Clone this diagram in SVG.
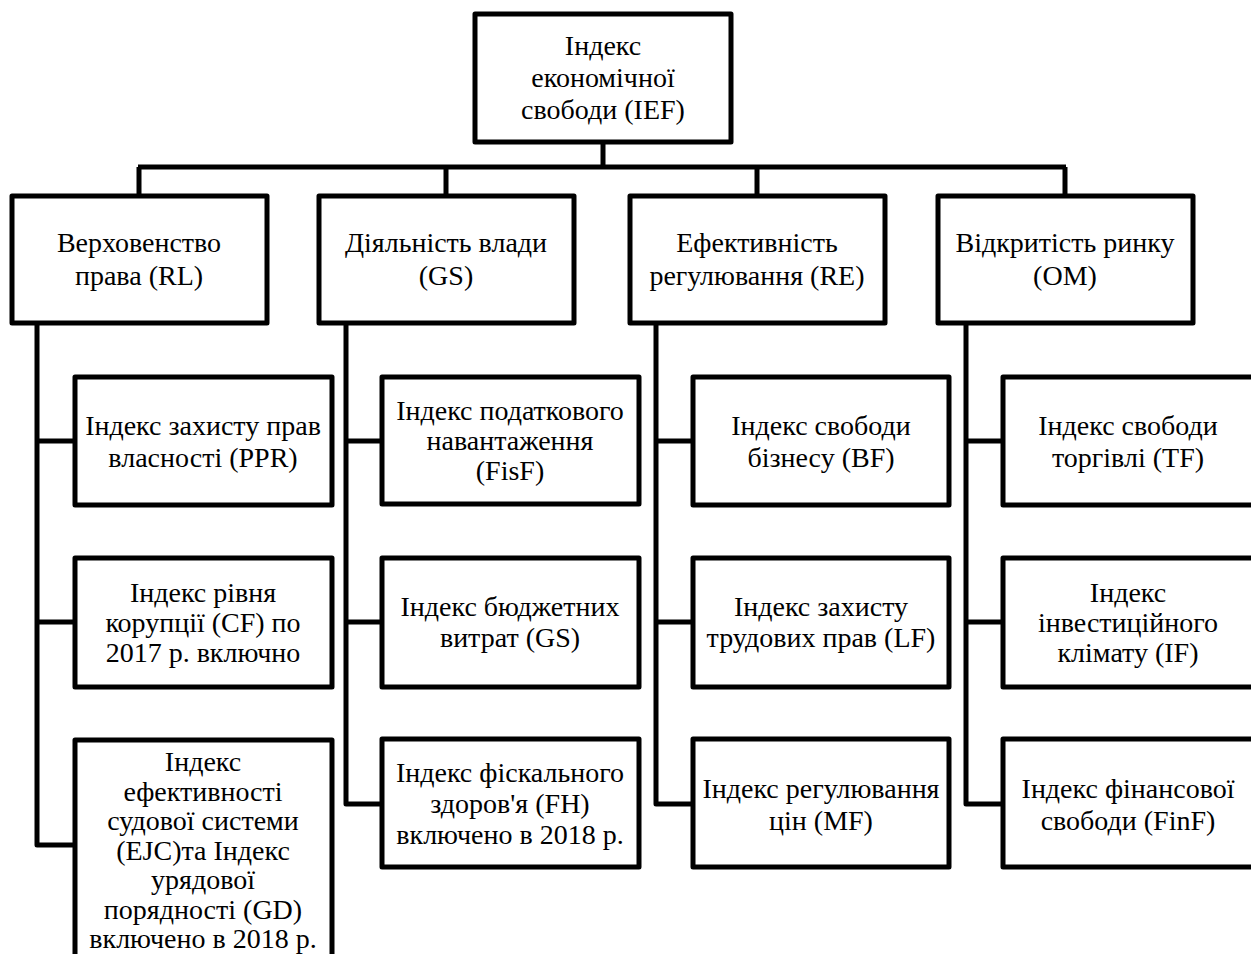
<svg xmlns="http://www.w3.org/2000/svg" width="1251" height="954" viewBox="0 0 1251 954">
<style>
.box{fill:#fff;stroke:#000;stroke-width:5;stroke-linejoin:round}
.ln{fill:none;stroke:#000;stroke-width:5;stroke-linejoin:round}
.t{font-family:'Liberation Serif','DejaVu Serif',serif;font-size:28px;fill:#000;text-anchor:middle}
</style>
<rect width="1251" height="954" fill="#fff"/>
<g id="connectors">
<path class="ln" d="M603 142V167M138 167H1066M139 167V196M446 167V196M757 167V196M1065 167V196"/>
<path class="ln" d="M37 323V845H75M37 441H75M37 622H75"/>
<path class="ln" d="M346 323V804H382M346 441H382M346 622H382"/>
<path class="ln" d="M656 323V804H693M656 441H693M656 622H693"/>
<path class="ln" d="M966 323V804H1003M966 441H1003M966 622H1003"/>
</g>
<g class="t" font-family="Liberation Serif, DejaVu Serif, serif">
<g id="ief"><rect class="box" x="475" y="14" width="256" height="128"/>
<text x="603" y="55">Індекс</text><text x="603" y="87">економічної</text><text x="603" y="119">свободи (IEF)</text></g>
<g id="rl"><rect class="box" x="12" y="196" width="255" height="127"/>
<text x="139" y="252">Верховенство</text><text x="139" y="285">права (RL)</text></g>
<g id="gs"><rect class="box" x="319" y="196" width="255" height="127"/>
<text x="446" y="252">Діяльність влади</text><text x="446" y="285">(GS)</text></g>
<g id="re"><rect class="box" x="630" y="196" width="255" height="127"/>
<text x="757" y="252">Ефективність</text><text x="757" y="285">регулювання (RE)</text></g>
<g id="om"><rect class="box" x="938" y="196" width="255" height="127"/>
<text x="1065" y="252">Відкритість ринку</text><text x="1065" y="285">(OM)</text></g>

<g id="ppr"><rect class="box" x="75" y="377" width="257" height="128"/>
<text x="203" y="435">Індекс захисту прав</text><text x="203" y="467">власності (PPR)</text></g>
<g id="cf"><rect class="box" x="75" y="558" width="257" height="129"/>
<text x="203" y="602">Індекс рівня</text><text x="203" y="632">корупції (CF) по</text><text x="203" y="662">2017 р. включно</text></g>
<g id="ejc"><rect class="box" x="75" y="740" width="257" height="230"/>
<text x="203" y="771">Індекс</text><text x="203" y="800.5">ефективності</text><text x="203" y="830">судової системи</text><text x="203" y="859.5">(EJC)та Індекс</text><text x="203" y="889">урядової</text><text x="203" y="918.5">порядності (GD)</text><text x="203" y="948">включено в 2018 р.</text></g>

<g id="fisf"><rect class="box" x="382" y="377" width="257" height="127"/>
<text x="510" y="420">Індекс податкового</text><text x="510" y="450">навантаження</text><text x="510" y="480">(FisF)</text></g>
<g id="gs2"><rect class="box" x="382" y="558" width="257" height="129"/>
<text x="510" y="616">Індекс бюджетних</text><text x="510" y="647">витрат (GS)</text></g>
<g id="fh"><rect class="box" x="382" y="739" width="257" height="128"/>
<text x="510" y="782">Індекс фіскального</text><text x="510" y="813">здоров'я (FH)</text><text x="510" y="844">включено в 2018 р.</text></g>

<g id="bf"><rect class="box" x="693" y="377" width="256" height="128"/>
<text x="821" y="435">Індекс свободи</text><text x="821" y="467">бізнесу (BF)</text></g>
<g id="lf"><rect class="box" x="693" y="558" width="256" height="129"/>
<text x="821" y="616">Індекс захисту</text><text x="821" y="647">трудових прав (LF)</text></g>
<g id="mf"><rect class="box" x="693" y="739" width="256" height="128"/>
<text x="821" y="798">Індекс регулювання</text><text x="821" y="830">цін (MF)</text></g>

<g id="tf"><rect class="box" x="1003" y="377" width="256" height="128"/>
<text x="1128" y="435">Індекс свободи</text><text x="1128" y="467">торгівлі (TF)</text></g>
<g id="if"><rect class="box" x="1003" y="558" width="256" height="129"/>
<text x="1128" y="602">Індекс</text><text x="1128" y="632">інвестиційного</text><text x="1128" y="662">клімату (IF)</text></g>
<g id="finf"><rect class="box" x="1003" y="739" width="256" height="128"/>
<text x="1128" y="798">Індекс фінансової</text><text x="1128" y="830">свободи (FinF)</text></g>
</g>
</svg>
